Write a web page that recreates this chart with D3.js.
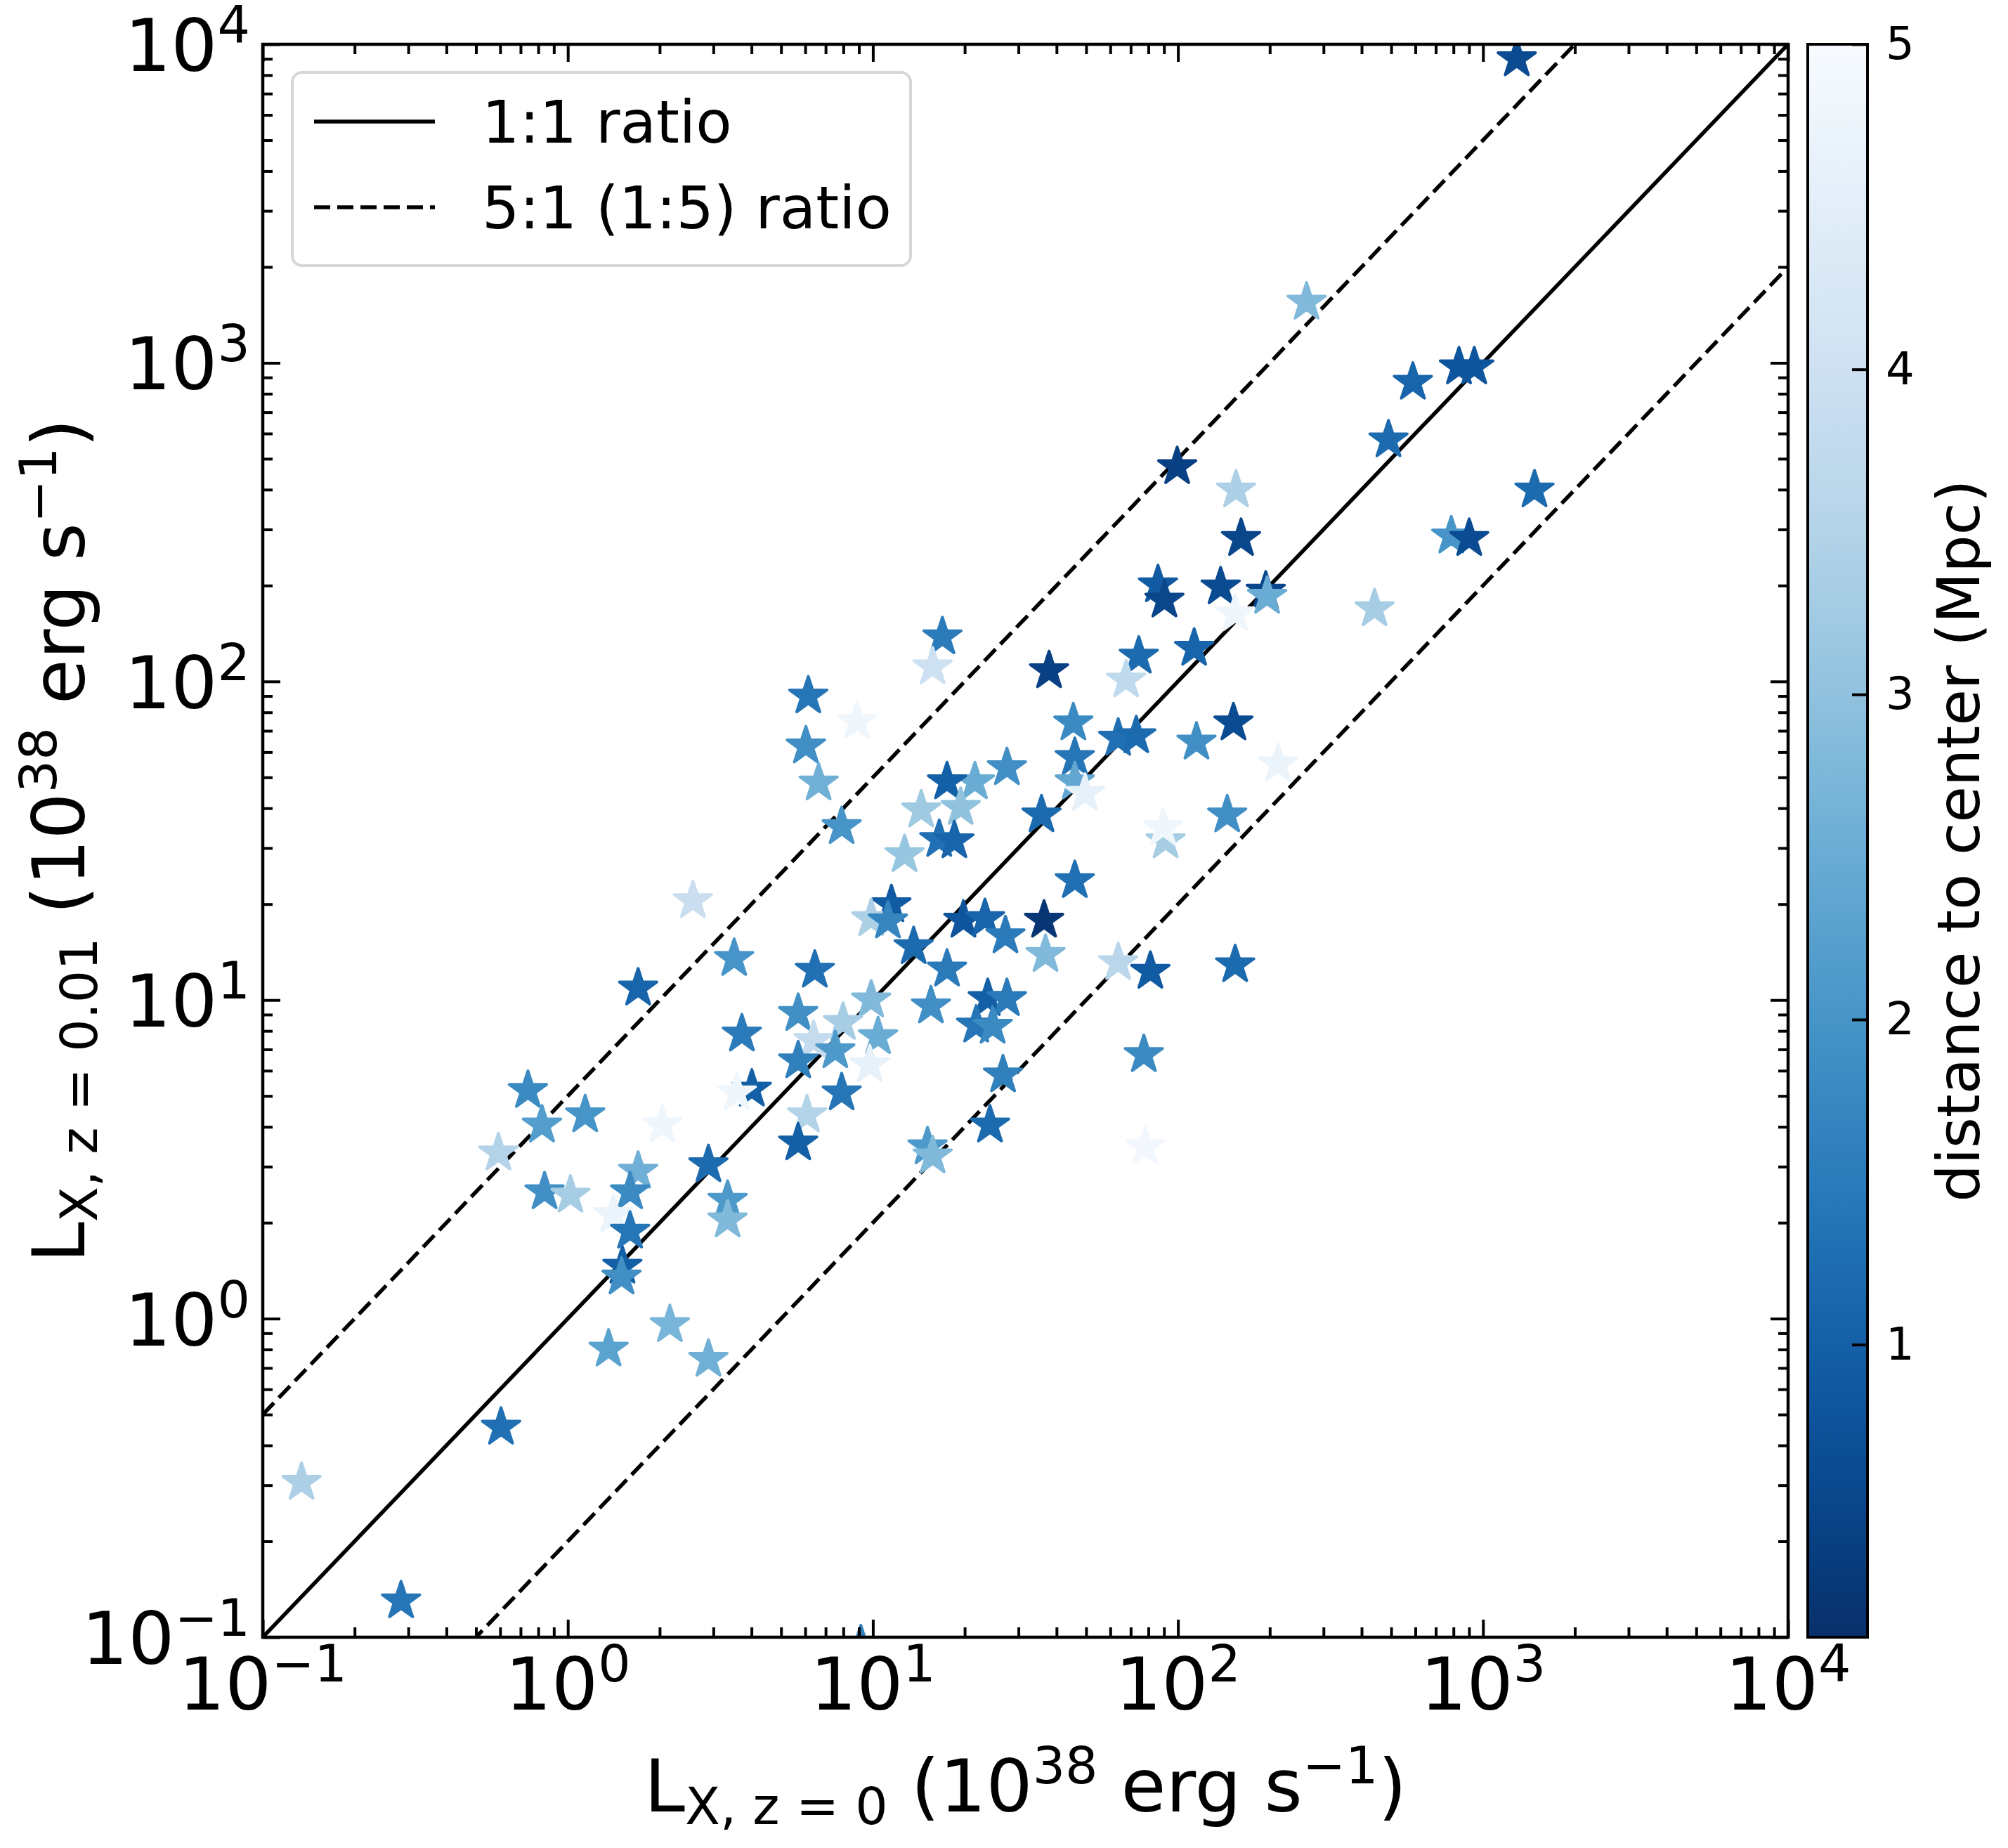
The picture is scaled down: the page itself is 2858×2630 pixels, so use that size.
<!DOCTYPE html>
<html>
<head>
  <meta charset="utf-8">
  <title>Lx z=0 vs z=0.01</title>
  <script src="https://d3js.org/d3.v7.min.js"></script>
  <style>
    body { margin: 0; background: #fff; }
    text { font-family: "DejaVu Sans", sans-serif; fill: #000; }
  </style>
</head>
<body>
  <svg id="grafico"></svg>

  <script>
    // L_X at z=0 (x axis), units 1e38 erg/s
    const lxZ0 = [
      1290, 264, 589, 834, 936, 490, 99.4, 155, 161, 1475,
      787, 901, 86, 90.3, 138, 194, 196, 154, 441, 113,
      74.4, 16.9, 15.7, 37.8, 67.6, 6.14, 8.87, 6.03, 45.4, 63.7,
      73.0, 152, 115, 6.64, 45.9, 45.9, 49.6, 213, 27.5, 21.6,
      17.5, 7.90, 14.4, 19.4, 35.7, 16.5, 18.5, 145, 91.1, 89.4,
      12.7, 2.57, 11.5, 9.87, 11.2, 13.6, 19.8, 23.3, 27.2, 36.4,
      45.9, 36.8, 17.5, 3.51, 63.7, 6.45, 1.70, 81.2, 154, 9.87,
      15.5, 23.8, 27.5, 5.69, 7.98, 3.72, 6.39, 10.4, 7.53, 5.69,
      9.77, 21.8, 24.7, 26.7, 77.3, 4.01, 3.58, 7.90, 0.740, 0.823,
      1.14, 0.592, 2.04, 6.08, 5.69, 24.2, 15.1, 15.7, 78.1, 0.839,
      1.02, 1.70, 1.60, 1.41, 1.60, 1.51, 1.50, 2.89, 3.34, 3.34,
      2.16, 1.36, 2.89, 0.604, 0.134, 0.284, 9.13
    ];
    // L_X at z=0.01 (y axis)
    const lxZ001 = [
      9000, 1550, 869, 971, 971, 573, 472, 399, 281, 399,
      286, 281, 201, 180, 198, 192, 185, 163, 169, 127,
      120, 138, 111, 108, 101, 90.0, 74.8, 62.7, 74.1, 66.3,
      67.5, 74.1, 64.5, 48.0, 57.7, 48.4, 44.5, 55.1, 53.6, 48.4,
      48.4, 35.0, 39.5, 40.2, 38.1, 31.9, 31.6, 38.1, 31.6, 34.7,
      28.6, 20.5, 19.9, 18.0, 17.7, 14.7, 17.8, 18.0, 15.9, 17.8,
      23.7, 13.9, 12.5, 13.5, 13.1, 12.4, 10.9, 12.3, 12.9, 10.0,
      9.58, 10.1, 10.1, 9.07, 8.50, 7.82, 7.46, 7.67, 6.93, 6.44,
      6.26, 8.34, 8.27, 5.82, 6.74, 5.25, 5.11, 5.11, 5.20, 4.05,
      4.36, 3.31, 4.05, 4.36, 3.56, 4.05, 3.46, 3.24, 3.46, 2.50,
      2.44, 2.90, 2.50, 2.12, 1.88, 1.46, 1.35, 3.04, 2.35, 2.04,
      0.957, 0.802, 0.745, 0.456, 0.306, 0.130, 0.0946
    ];
    // distance to center (Mpc), colour of each star
    const distMpc = [
      0.6, 2.8, 1.1, 0.8, 0.8, 1.2, 0.4, 3.4, 0.5, 1.2,
      2.0, 0.6, 0.9, 0.5, 0.6, 0.5, 2.5, 4.8, 3.3, 1.1,
      1.2, 1.5, 4.0, 0.4, 3.7, 1.4, 4.8, 1.9, 1.8, 1.3,
      1.2, 0.6, 1.9, 2.6, 1.4, 2.4, 4.6, 4.7, 1.9, 2.5,
      1.0, 2.0, 3.2, 3.0, 1.2, 1.3, 1.1, 1.9, 3.3, 4.8,
      3.1, 3.9, 0.9, 3.4, 1.7, 1.2, 0.8, 1.1, 1.5, 0.2,
      1.3, 2.8, 1.5, 2.0, 3.6, 1.3, 1.1, 0.9, 1.2, 2.8,
      1.9, 1.0, 1.5, 1.9, 3.3, 1.5, 3.8, 2.5, 2.1, 1.6,
      4.6, 1.4, 1.8, 1.6, 1.8, 1.0, 4.8, 1.4, 1.8, 2.2,
      2.0, 3.5, 4.8, 3.5, 1.0, 1.2, 2.1, 2.8, 4.9, 1.9,
      3.3, 2.6, 1.8, 4.7, 1.4, 1.0, 1.9, 1.2, 2.1, 2.8,
      2.7, 2.3, 2.6, 1.3, 3.4, 1.4, 1.6
    ];

    const majorTicks = [1e-1, 1e0, 1e1, 1e2, 1e3, 1e4];
    const majorExp = [-1, 0, 1, 2, 3, 4];
    const minorTicks = [];
    majorTicks.slice(0, -1).forEach(m => [2, 3, 4, 5, 6, 7, 8, 9].forEach(k => minorTicks.push(m * k)));
    const cbarTicks = [1, 2, 3, 4, 5];
    const ratios = [1, 5, 0.2];
    const legendLabels = ["1:1 ratio", "5:1 (1:5) ratio"];

    const W = 2858, H = 2630;
    const L = 374, R = 2545, T = 63, B = 2330;
    const CB0 = 2573, CB1 = 2658;

    const svg = d3.select("#grafico").attr("width", W).attr("height", H);

    const x = d3.scaleLog().domain([0.1, 1e4]).range([L, R]);
    const y = d3.scaleLog().domain([0.1, 1e4]).range([B, T]);
    const color = d3.scaleSequential(d3.interpolateBlues).domain([5, 0.1]);
    const cy = d3.scaleLinear().domain([0.1, 5]).range([B, T]);

    svg.append("defs").append("clipPath").attr("id", "clip")
      .append("rect").attr("x", L).attr("y", T).attr("width", R - L).attr("height", B - T);

    const plot = svg.append("g").attr("clip-path", "url(#clip)");

    // ratio lines
    const line = d3.line().x(d => x(d[0])).y(d => y(d[1]));
    ratios.forEach(r => {
      plot.append("path")
        .attr("d", line([[0.1, 0.1 * r], [1e4, 1e4 * r]]))
        .attr("fill", "none")
        .attr("stroke", "#000")
        .attr("stroke-width", 5.5)
        .attr("stroke-dasharray", r === 1 ? null : "23,10");
    });

    // stars
    const star = d3.symbol().type(d3.symbolStar).size(880);
    plot.selectAll(".estrella")
      .data(d3.range(lxZ0.length))
      .join("path")
      .attr("class", "estrella")
      .attr("transform", i => `translate(${x(lxZ0[i])},${y(lxZ001[i])})`)
      .attr("d", star)
      .attr("fill", i => color(distMpc[i]))
      .attr("stroke", i => color(distMpc[i]))
      .attr("stroke-width", 4)
      .attr("stroke-linejoin", "round");

    // ticks, all four sides, pointing in
    function ticks(axisFn, pos, vals, len) {
      const g = svg.append("g").attr("transform", pos)
        .call(axisFn.tickValues(vals).tickSize(-len).tickFormat(() => ""));
      g.select(".domain").remove();
      g.selectAll("line").attr("stroke", "#000").attr("stroke-width", 4);
      g.selectAll("text").remove();
    }
    [[majorTicks, 25], [minorTicks, 14]].forEach(([vals, len]) => {
      ticks(d3.axisBottom(x), `translate(0,${B})`, vals, len);
      ticks(d3.axisTop(x), `translate(0,${T})`, vals, len);
      ticks(d3.axisLeft(y), `translate(${L},0)`, vals, len);
      ticks(d3.axisRight(y), `translate(${R},0)`, vals, len);
    });

    // frame
    svg.append("rect")
      .attr("x", L).attr("y", T).attr("width", R - L).attr("height", B - T)
      .attr("fill", "none").attr("stroke", "#000").attr("stroke-width", 4.5);

    // tick labels 10^k
    function powLabel(t, k) {
      t.append("tspan").text("10");
      t.append("tspan").attr("font-size", 73).attr("dy", -40)
        .text(k < 0 ? "\u2212" + (-k) : String(k));
    }
    majorTicks.forEach((v, i) => {
      const tx = svg.append("text").attr("x", x(v)).attr("y", 2433)
        .attr("text-anchor", "middle").attr("font-size", 104);
      powLabel(tx, majorExp[i]);
      const ty = svg.append("text").attr("x", 356).attr("y", y(v) + 38)
        .attr("text-anchor", "end").attr("font-size", 104);
      powLabel(ty, majorExp[i]);
    });

    // axis labels
    function lumLabel(t, sub) {
      t.append("tspan").text("L");
      t.append("tspan").attr("font-size", 73).attr("dy", 18).text(sub);
      t.append("tspan").attr("dy", -18).text(" (10");
      t.append("tspan").attr("font-size", 73).attr("dy", -40).text("38");
      t.append("tspan").attr("dy", 40).text(" erg s");
      t.append("tspan").attr("font-size", 73).attr("dy", -40).text("\u22121");
      t.append("tspan").attr("dy", 40).text(")");
    }
    lumLabel(svg.append("text").attr("x", (L + R) / 2).attr("y", 2578)
      .attr("text-anchor", "middle").attr("font-size", 104), "X, z = 0");
    lumLabel(svg.append("text")
      .attr("transform", `translate(120,${(T + B) / 2}) rotate(-90)`)
      .attr("text-anchor", "middle").attr("font-size", 104), "X, z = 0.01");

    // legend
    const leg = svg.append("g");
    leg.append("rect").attr("x", 416).attr("y", 103).attr("width", 880).attr("height", 275)
      .attr("rx", 14).attr("fill", "#fff").attr("stroke", "#d6d6d6").attr("stroke-width", 4);
    legendLabels.forEach((lab, i) => {
      const ly = i === 0 ? 173 : 295;
      leg.append("line").attr("x1", 447).attr("x2", 619).attr("y1", ly).attr("y2", ly)
        .attr("stroke", "#000").attr("stroke-width", 5.5)
        .attr("stroke-dasharray", i === 0 ? null : "23,10");
      leg.append("text").attr("x", 686).attr("y", ly + 30).attr("font-size", 84).text(lab);
    });

    // colorbar
    const grad = svg.select("defs").append("linearGradient").attr("id", "cbar")
      .attr("x1", 0).attr("y1", 1).attr("x2", 0).attr("y2", 0);
    d3.range(0, 1.0001, 0.05).forEach(t => {
      grad.append("stop").attr("offset", t)
        .attr("stop-color", color(0.1 + t * 4.9));
    });
    svg.append("rect").attr("x", CB0).attr("y", T).attr("width", CB1 - CB0).attr("height", B - T)
      .attr("fill", "url(#cbar)").attr("stroke", "#000").attr("stroke-width", 4);
    const cg = svg.append("g").attr("transform", `translate(${CB1},0)`)
      .call(d3.axisRight(cy).tickValues(cbarTicks).tickSize(-22).tickPadding(26).tickFormat(d3.format("d")));
    cg.select(".domain").remove();
    cg.selectAll("line").attr("stroke", "#000").attr("stroke-width", 4);
    cg.selectAll("text").attr("font-size", 64).attr("font-family", "DejaVu Sans").attr("fill", "#000");

    svg.append("text")
      .attr("transform", `translate(2817,${(T + B) / 2}) rotate(-90)`)
      .attr("text-anchor", "middle").attr("font-size", 84)
      .text("distance to center (Mpc)");
  </script>
</body>
</html>
